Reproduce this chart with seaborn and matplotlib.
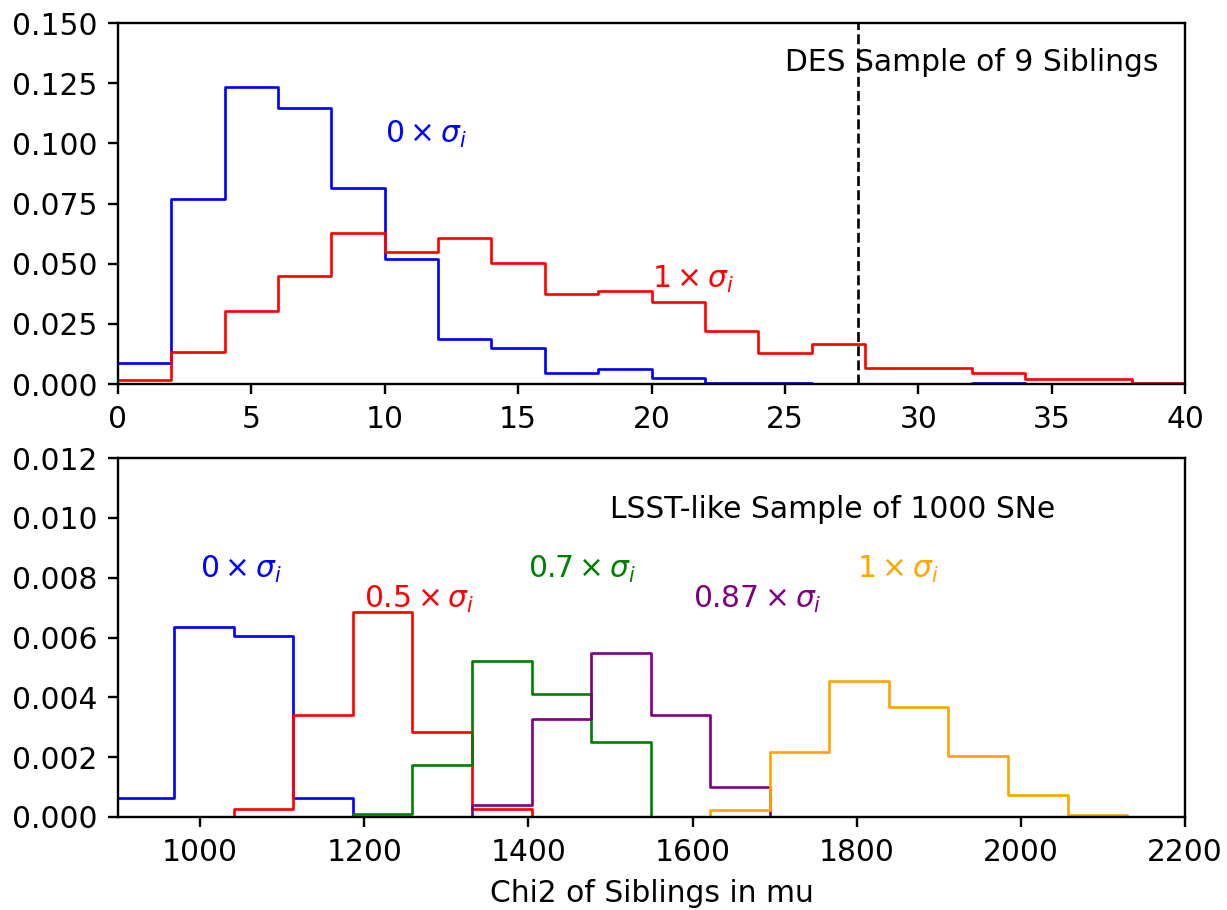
import numpy as np
import pandas as pd
import matplotlib
matplotlib.use("Agg")
import matplotlib.pyplot as plt
import seaborn as sns

# ---------------- data ----------------
# Top panel (DES, 9 siblings): bin edges 0..40 step 2
des_edges = list(range(0, 42, 2))
des_0sig = [0.0088, 0.0770, 0.1236, 0.1146, 0.0815, 0.0520, 0.0188, 0.0151, 0.0046, 0.0061,
            0.0024, 0.0006, 0.0005, 0.0, 0.0, 0.0, 0.0005, 0.0, 0.0, 0.0]
des_1sig = [0.0018, 0.0133, 0.0304, 0.0447, 0.0628, 0.0547, 0.0607, 0.0501, 0.0375, 0.0386,
            0.0340, 0.0222, 0.0130, 0.0168, 0.0067, 0.0067, 0.0047, 0.0022, 0.0022, 0.0006]
des_obs = 27.75

# Bottom panel (LSST-like, 1000 SNe)
lsst_edges = [896.0, 968.6, 1041.1, 1113.7, 1186.2, 1258.8, 1331.3, 1403.9, 1476.4, 1549.0,
              1621.6, 1694.1, 1766.7, 1839.2, 1911.8, 1984.3, 2056.9, 2129.4, 2202.0]
lsst_0sig = [0.00063, 0.00634, 0.00606, 0.00063, 0, 0, 0, 0, 0, 0, 0, 0, 0, 0, 0, 0, 0, 0]
lsst_05sig = [0, 0, 0.00027, 0.00342, 0.00686, 0.00283, 0.00027, 0, 0, 0, 0, 0, 0, 0, 0, 0, 0, 0]
lsst_07sig = [0, 0, 0, 0, 0.00010, 0.00174, 0.00520, 0.00412, 0.00250, 0, 0, 0, 0, 0, 0, 0, 0, 0]
lsst_087sig = [0, 0, 0, 0, 0, 0, 0.00039, 0.00326, 0.00548, 0.00340, 0.00101, 0, 0, 0, 0, 0, 0, 0]
lsst_1sig = [0, 0, 0, 0, 0, 0, 0, 0, 0, 0, 0.00024, 0.00217, 0.00455, 0.00369, 0.00203, 0.00072,
             0.00008, 0]

top_labels = [r"$0\times\sigma_i$", r"$1\times\sigma_i$"]
top_label_pos = [(10, 0.1), (20, 0.04)]
bot_labels = [r"$0\times\sigma_i$", r"$0.5\times\sigma_i$", r"$0.7\times\sigma_i$",
              r"$0.87\times\sigma_i$", r"$1\times\sigma_i$"]
bot_label_pos = [(1000, 0.008), (1200, 0.007), (1400, 0.008), (1600, 0.007), (1800, 0.008)]
top_colors = ["blue", "red"]
bot_colors = ["blue", "red", "green", "purple", "orange"]

# ---------------- plotting ----------------
plt.rcParams["font.family"] = ["DejaVu Sans"]
plt.rcParams["font.size"] = 10
plt.rcParams["mathtext.fontset"] = "dejavusans"

DPI = 214
fig = plt.figure(figsize=(1227 / DPI, 910 / DPI), dpi=DPI)
ax1 = fig.add_axes([118 / 1227, 1 - 384 / 910, (1185 - 118) / 1227, (384 - 23) / 910])
ax2 = fig.add_axes([118 / 1227, 1 - 817 / 910, (1185 - 118) / 1227, (817 - 458) / 910])


def step_hist(ax, edges, vals, color):
    e = [float(v) for v in edges]
    centers = [0.5 * (a + b) for a, b in zip(e[:-1], e[1:])]
    df = pd.DataFrame({"c": centers, "w": [float(v) for v in vals]})
    sns.histplot(data=df, x="c", weights="w", bins=e, element="step", fill=False,
                 stat="count", color=color, linewidth=0.9, ax=ax)


for vals, c in zip([des_0sig, des_1sig], top_colors):
    step_hist(ax1, des_edges, vals, c)
ax1.axvline(des_obs, color="k", linestyle="--", linewidth=0.9)
for (x, y), lab, c in zip(top_label_pos, top_labels, top_colors):
    ax1.text(x, y, lab, color=c)
ax1.text(25, 0.13, "DES Sample of 9 Siblings")
ax1.set_xlim(0, 40)
ax1.set_ylim(0, 0.15)
ax1.set_yticks([0, 0.025, 0.05, 0.075, 0.1, 0.125, 0.15])
ax1.set_yticklabels(["0.000", "0.025", "0.050", "0.075", "0.100", "0.125", "0.150"])
ax1.set_xticks([0, 5, 10, 15, 20, 25, 30, 35, 40])
ax1.set_xlabel("")
ax1.set_ylabel("")

for vals, c in zip([lsst_0sig, lsst_05sig, lsst_07sig, lsst_087sig, lsst_1sig], bot_colors):
    step_hist(ax2, lsst_edges, vals, c)
for (x, y), lab, c in zip(bot_label_pos, bot_labels, bot_colors):
    ax2.text(x, y, lab, color=c)
ax2.text(1500, 0.01, "LSST-like Sample of 1000 SNe")
ax2.set_xlim(900, 2200)
ax2.set_ylim(0, 0.012)
ax2.set_yticks([0, 0.002, 0.004, 0.006, 0.008, 0.010, 0.012])
ax2.set_yticklabels(["0.000", "0.002", "0.004", "0.006", "0.008", "0.010", "0.012"])
ax2.set_xticks([1000, 1200, 1400, 1600, 1800, 2000, 2200])
ax2.set_xlabel("Chi2 of Siblings in mu")
ax2.set_ylabel("")

fig.savefig("out.png", dpi=DPI)
